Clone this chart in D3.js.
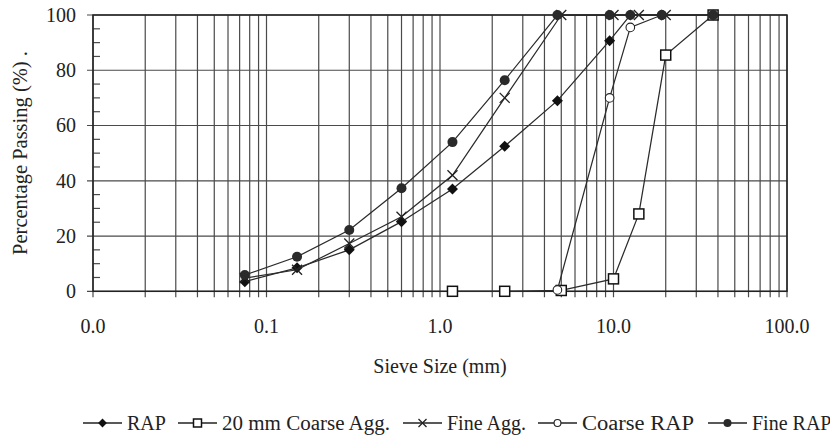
<!DOCTYPE html>
<html><head><meta charset="utf-8">
<script src="https://cdn.jsdelivr.net/npm/d3@7/dist/d3.min.js"></script>
<style>body{margin:0;background:#fff}</style>
</head><body><svg id="c" width="830" height="438" font-family="'Liberation Serif', 'Times New Roman', Times, serif"></svg>
<script>
// ---- data ----
const rapSizes = [0.075,0.15,0.3,0.6,1.18,2.36,4.75,9.5,12.5,19,37.5];
const rapValues = [3.5,8.5,15,25.2,37,52.5,69,90.7,100,100,100];
const coarseAggSizes = [1.18,2.36,5,10,14,20,37.5];
const coarseAggValues = [0,0,0.3,4.5,28,85.5,100];
const fineAggSizes = [0.075,0.15,0.3,0.6,1.18,2.36,5,10,14,20];
const fineAggValues = [4.8,7.8,17.3,27,42,70,100,100,100,100];
const coarseRapSizes = [4.75,9.5,12.5,19,37.5];
const coarseRapValues = [0.5,70,95.5,100,100];
const fineRapSizes = [0.075,0.15,0.3,0.6,1.18,2.36,4.75,9.5,12.5,19,37.5];
const fineRapValues = [5.9,12.5,22.2,37.3,54,76.4,100,100,100,100,100];
const seriesNames = ["RAP","20 mm Coarse Agg.","Fine Agg.","Coarse RAP","Fine RAP"];
const xTickValues = [0.01,0.1,1,10,100];
const xTickLabels = ["0.0","0.1","1.0","10.0","100.0"];
const yTickValues = [0,20,40,60,80,100];

const series = [
  {name:seriesNames[0], sizes:rapSizes, values:rapValues, marker:"diamond"},
  {name:seriesNames[1], sizes:coarseAggSizes, values:coarseAggValues, marker:"square"},
  {name:seriesNames[2], sizes:fineAggSizes, values:fineAggValues, marker:"cross"},
  {name:seriesNames[3], sizes:coarseRapSizes, values:coarseRapValues, marker:"ocircle"},
  {name:seriesNames[4], sizes:fineRapSizes, values:fineRapValues, marker:"fcircle"}
];

const FONT = "'Liberation Serif', 'Times New Roman', Times, serif";
const svg = d3.select("#c");
const L=93, R=787, T=15, B=291.3;
const x = d3.scaleLog().domain([0.01,100]).range([L,R]);
const y = d3.scaleLinear().domain([0,100]).range([B,T]);
const grid = "#4a4a4a";

// vertical grid
const vt = x.ticks();
svg.append("g").selectAll("line").data(vt).join("line")
  .attr("x1",d=>x(d)).attr("x2",d=>x(d)).attr("y1",T).attr("y2",B+6)
  .attr("stroke",grid).attr("stroke-width",1.2);
// horizontal grid
svg.append("g").selectAll("line").data(yTickValues).join("line")
  .attr("x1",L-6).attr("x2",R).attr("y1",d=>y(d)).attr("y2",d=>y(d))
  .attr("stroke",grid).attr("stroke-width",1.2);
// minor y ticks (inside)
const yMinor = d3.range(5,100,5).filter(v=>v%20!==0);
svg.append("g").selectAll("line").data(yMinor).join("line")
  .attr("x1",L).attr("x2",L+7).attr("y1",d=>y(d)).attr("y2",d=>y(d))
  .attr("stroke",grid).attr("stroke-width",1.2);
// border
svg.append("rect").attr("x",L).attr("y",T).attr("width",R-L).attr("height",B-T)
  .attr("fill","none").attr("stroke","#222").attr("stroke-width",1.5);

// axis labels
svg.append("g").selectAll("text").data(yTickValues).join("text")
  .attr("font-family",FONT)
  .attr("x",76).attr("y",d=>y(d)).attr("dy","0.34em").attr("text-anchor","end")
  .attr("font-size",20).attr("fill","#222").text(d=>d);
svg.append("g").selectAll("text").data(xTickValues).join("text")
  .attr("font-family",FONT)
  .attr("x",d=>x(d)).attr("y",333).attr("text-anchor","middle")
  .attr("font-size",20).attr("fill","#222").text((d,i)=>xTickLabels[i]);
svg.append("text").attr("font-family",FONT).attr("x",440).attr("y",373).attr("text-anchor","middle")
  .attr("font-size",20).attr("fill","#222").text("Sieve Size (mm)");
svg.append("text").attr("font-family",FONT).attr("transform","translate(27,153) rotate(-90)").attr("text-anchor","middle")
  .attr("font-size",20.5).attr("fill","#222").text("Percentage Passing (%) .");

// markers
function drawMarker(g, type, cx, cy, s){
  s = s||1;
  if(type==="diamond"){
    const r=5.5*s;
    g.append("path").attr("d",`M${cx},${cy-r}L${cx+r},${cy}L${cx},${cy+r}L${cx-r},${cy}Z`).attr("fill","#111");
  } else if(type==="square"){
    const h=5*s;
    g.append("rect").attr("x",cx-h).attr("y",cy-h).attr("width",2*h).attr("height",2*h)
      .attr("fill","#fff").attr("stroke","#111").attr("stroke-width",1.5);
  } else if(type==="cross"){
    const h=5*s;
    g.append("path").attr("d",`M${cx-h},${cy-h}L${cx+h},${cy+h}M${cx-h},${cy+h}L${cx+h},${cy-h}`)
      .attr("stroke","#222").attr("stroke-width",1.3);
  } else if(type==="ocircle"){
    g.append("circle").attr("cx",cx).attr("cy",cy).attr("r",4.3*s)
      .attr("fill","#fff").attr("stroke","#222").attr("stroke-width",1.1);
  } else if(type==="fcircle"){
    g.append("circle").attr("cx",cx).attr("cy",cy).attr("r",5*s).attr("fill","#2a2a2a");
  }
}

const line = d3.line().x(d=>x(d[0])).y(d=>y(d[1]));
series.forEach(sr=>{
  const pts = sr.sizes.map((s,i)=>[s,sr.values[i]]);
  const g = svg.append("g");
  g.append("path").attr("d",line(pts)).attr("fill","none").attr("stroke","#2b2b2b").attr("stroke-width",1.25);
  pts.forEach(p=>drawMarker(g, sr.marker, x(p[0]), y(p[1])));
});

// legend
const legX = [83,178,403,538,708];
const legTextLen = [null,168,null,112,null];
const legY = 423;
series.forEach((sr,i)=>{
  const g = svg.append("g");
  g.append("line").attr("x1",legX[i]).attr("x2",legX[i]+39).attr("y1",legY).attr("y2",legY)
    .attr("stroke","#222").attr("stroke-width",1.5);
  drawMarker(g, sr.marker, legX[i]+19.5, legY, 0.8);
  const t = g.append("text").attr("font-family",FONT).attr("x",legX[i]+44).attr("y",legY+7).attr("font-size",20).attr("fill","#222").text(sr.name);
  if(legTextLen[i]) t.attr("textLength",legTextLen[i]).attr("lengthAdjust","spacingAndGlyphs");
});
</script></body></html>
